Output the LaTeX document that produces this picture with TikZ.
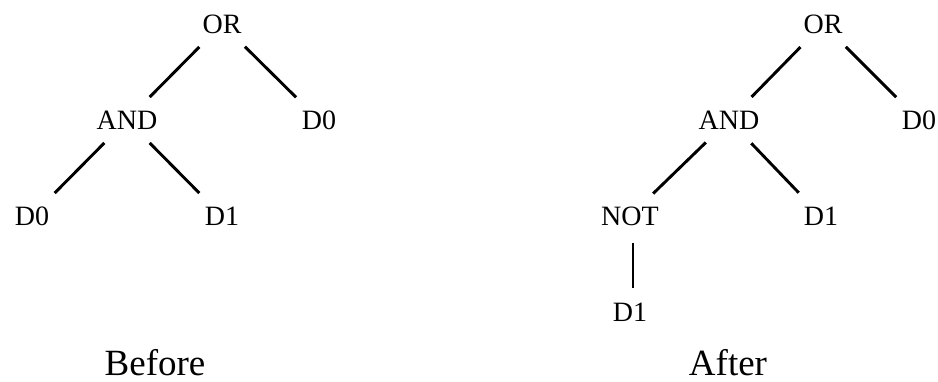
\documentclass[tikz,border=0pt]{standalone}
\usepackage{fontspec}
\setmainfont{Liberation Serif}
\begin{document}
\begin{tikzpicture}[x=1pt,y=-1pt,
    gate/.style={circle,inner sep=0pt,minimum size=64pt,font=\fontsize{28}{28}\selectfont,text height=18pt,text depth=0pt},
    branch/.style={line width=2.9pt},
    caption/.style={anchor=base,inner sep=0pt,text depth=0pt,font=\fontsize{37}{37}\selectfont}]
        \useasboundingbox (0,0) rectangle (938,381);
        % before
        \node[gate] (orA) at (222,24) {OR};
        \node[gate] (andA) at (127,120) {AND};
        \node[gate] (dzA) at (319,120) {D0};
        \node[gate] (dzB) at (32,216) {D0};
        \node[gate] (doA) at (222,216) {D1};
        \draw[branch] (orA) -- (andA);
        \draw[branch] (orA) -- (dzA);
        \draw[branch] (andA) -- (dzB);
        \draw[branch] (andA) -- (doA);
        \node[caption] (before) at (155,375) {Before};
        % after
        \node[gate] (orC) at (823,24) {OR};
        \node[gate] (andC) at (729,120) {AND};
        \node[gate] (dzC) at (919,120) {D0};
        \node[gate] (notC) at (630,216) {NOT};
        \node[gate] (doC) at (821,216) {D1};
        \node[gate] (doD) at (630,312) {D1};
        \draw[branch] (orC) -- (andC);
        \draw[branch] (orC) -- (dzC);
        \draw[branch] (andC) -- (notC);
        \draw[branch] (andC) -- (doC);
        \draw[branch,shorten <=-5pt,shorten >=-8pt] ([xshift=3pt]notC.center) ++(0,32) coordinate (notbot) (notbot) -- ([xshift=3pt]doD.north);
        \node[caption] (after) at (728,375) {After};
      \end{tikzpicture}
\end{document}
